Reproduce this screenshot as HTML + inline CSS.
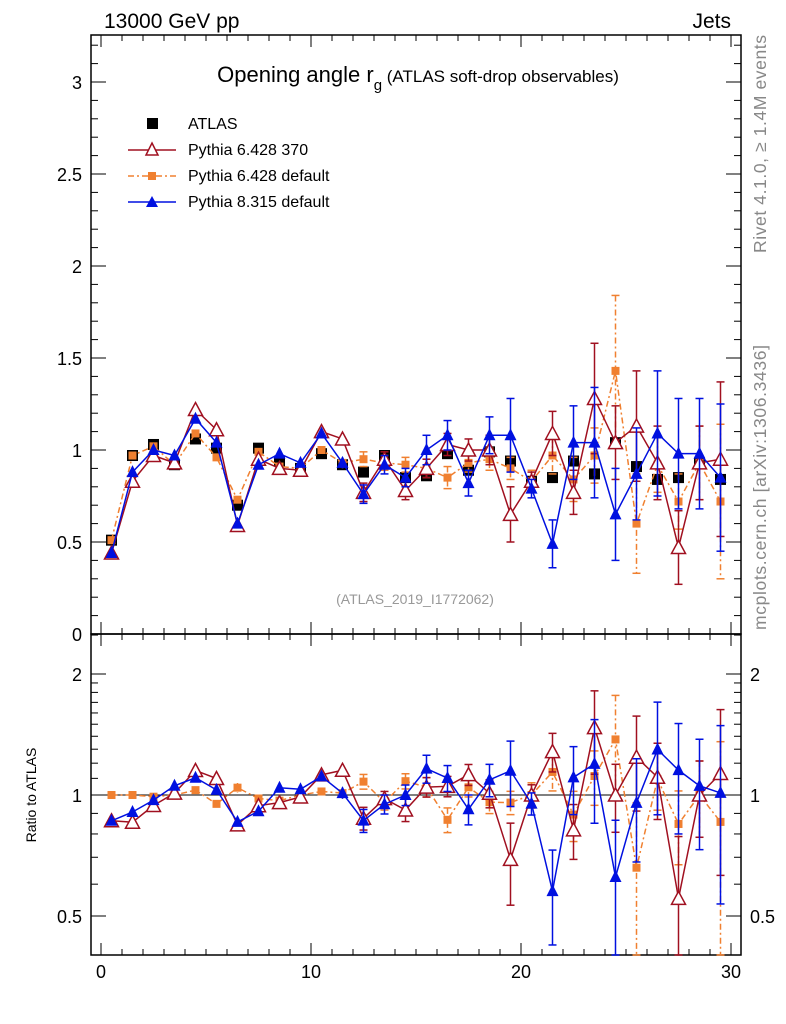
<!DOCTYPE html>
<html><head><meta charset="utf-8"><style>
body{margin:0;background:#fff;}
svg{display:block;font-family:"Liberation Sans",sans-serif;}
</style></head><body>
<svg id="c" width="786" height="1024" xmlns="http://www.w3.org/2000/svg">
<text x="104" y="28" font-size="21">13000 GeV pp</text>
<text x="731" y="28" font-size="21" text-anchor="end">Jets</text>
<text x="418" y="82" font-size="22" text-anchor="middle">Opening angle r<tspan dy="8" font-size="15">g</tspan><tspan dy="-8" font-size="17"> (ATLAS soft-drop observables)</tspan></text>
<text x="415" y="604" font-size="14" fill="#999" text-anchor="middle">(ATLAS_2019_I1772062)</text>
<text transform="translate(766,253) rotate(-90)" font-size="17.5" fill="#888" textLength="218">Rivet 4.1.0, ≥ 1.4M events</text>
<text transform="translate(766,630) rotate(-90)" font-size="17.5" fill="#888" textLength="285">mcplots.cern.ch [arXiv:1306.3436]</text>
<text transform="translate(36,795) rotate(-90)" font-size="14" text-anchor="middle">Ratio to ATLAS</text>
<g id="legend">
<rect x="147" y="118" width="11" height="11" fill="#000"/>
<text x="188" y="129" font-size="16">ATLAS</text>
<line x1="128" y1="150" x2="176" y2="150" stroke="#a01020" stroke-width="1.5"/>
<path d="M152,143 L158,155 L146,155 Z" fill="#fff" stroke="#a01020" stroke-width="1.5"/>
<text x="188" y="155" font-size="16">Pythia 6.428 370</text>
<line x1="128" y1="176" x2="176" y2="176" stroke="#f08030" stroke-width="1.5" stroke-dasharray="6,3,2,3"/>
<rect x="148" y="172" width="8" height="8" fill="#f08030"/>
<text x="188" y="181" font-size="16">Pythia 6.428 default</text>
<line x1="128" y1="202" x2="176" y2="202" stroke="#0010e0" stroke-width="1.5"/>
<path d="M152,196 L158,207 L146,207 Z" fill="#0010e0"/>
<text x="188" y="207" font-size="16">Pythia 8.315 default</text>
</g>
</svg>
<script>
const xs=[0.5,1.5,2.5,3.5,4.5,5.5,6.5,7.5,8.5,9.5,10.5,11.5,12.5,13.5,14.5,15.5,16.5,17.5,18.5,19.5,20.5,21.5,22.5,23.5,24.5,25.5,26.5,27.5,28.5,29.5];
const atlas=[0.51,0.97,1.03,0.92,1.06,1.01,0.70,1.01,0.94,0.90,0.98,0.92,0.88,0.97,0.85,0.86,0.98,0.89,0.99,0.94,0.83,0.85,0.94,0.87,1.04,0.91,0.84,0.85,0.93,0.84];
const py6a=[0.44,0.83,0.97,0.93,1.22,1.11,0.59,0.95,0.90,0.89,1.10,1.06,0.77,0.95,0.78,0.90,1.03,1.00,1.00,0.65,0.83,1.09,0.77,1.28,1.04,1.13,0.93,0.47,0.93,0.95];
const py6aErr=[0.01,0.01,0.01,0.01,0.01,0.01,0.01,0.01,0.01,0.02,0.02,0.03,0.05,0.04,0.05,0.05,0.06,0.06,0.08,0.15,0.05,0.12,0.12,0.3,0.2,0.3,0.2,0.2,0.2,0.42];
const py6b=[0.51,0.97,1.02,0.92,1.09,0.96,0.73,0.99,0.91,0.90,1.00,0.93,0.95,0.93,0.92,0.90,0.85,0.93,0.95,0.90,0.83,0.97,0.84,0.97,1.43,0.60,0.92,0.72,0.93,0.72];
const py6bErr=[0.01,0.01,0.01,0.01,0.01,0.01,0.02,0.02,0.02,0.02,0.02,0.03,0.04,0.04,0.04,0.05,0.06,0.05,0.06,0.06,0.06,0.1,0.12,0.15,0.41,0.27,0.15,0.15,0.2,0.42];
const py8=[0.44,0.88,1.00,0.97,1.17,1.04,0.60,0.92,0.98,0.93,1.09,0.93,0.76,0.92,0.85,1.00,1.08,0.82,1.08,1.08,0.79,0.49,1.04,1.04,0.65,0.87,1.09,0.98,0.98,0.85];
const py8Err=[0.01,0.01,0.01,0.01,0.01,0.01,0.01,0.02,0.02,0.02,0.02,0.03,0.05,0.05,0.05,0.08,0.08,0.07,0.1,0.2,0.05,0.13,0.2,0.3,0.25,0.25,0.34,0.3,0.3,0.4];
const xTicks=[0,10,20,30];
const yTicks=[0,0.5,1,1.5,2,2.5,3];
const rTicks=[0.5,1,2];

const svg=document.getElementById('c');
const NS='http://www.w3.org/2000/svg';
const L=91,R=741,T=35,B=634,RT=634,RB=955;
const X=v=>101+v*21;
const Y=v=>634-v*184;
const RY=v=>795-Math.log2(v)*121;
function mk(tag,at,parent){const e=document.createElementNS(NS,tag);for(const k in at)e.setAttribute(k,at[k]);(parent||svg).appendChild(e);return e;}
let f1=mk('rect',{x:L,y:T,width:R-L,height:B-T,fill:'none',stroke:'#000','stroke-width':1.5});


let f2=mk('rect',{x:L,y:RT,width:R-L,height:RB-RT,fill:'none',stroke:'#000','stroke-width':1.5});


for(let i=0;i<=30;i++){const x=X(i);const len=(i%10==0)?12:6;
 [[T,1],[B,-1],[RT,1],[RB,-1]].forEach(([y,d])=>mk('line',{x1:x,x2:x,y1:y,y2:y+d*len,stroke:'#000'}));}
xTicks.forEach(v=>{const t=mk('text',{x:X(v),y:978,'font-size':18,'text-anchor':'middle'});t.textContent=v;

});
for(let i=0;i<=32;i++){const v=i*0.1;const y=Y(v);if(y<T)continue;const len=(i%5==0)?15:7;
 mk('line',{x1:L,x2:L+len,y1:y,y2:y,stroke:'#000'});mk('line',{x1:R,x2:R-len,y1:y,y2:y,stroke:'#000'});}
yTicks.forEach(v=>{const t=mk('text',{x:82,y:Y(v)+7,'font-size':18,'text-anchor':'end'});t.textContent=v;

});
const rmin=[0.5,0.6,0.7,0.8,0.9,1,1.1,1.2,1.3,1.4,1.5,1.6,1.7,1.8,1.9,2,2.5];
rmin.forEach(v=>{const y=RY(v);if(y<RT||y>RB)return;const len=rTicks.includes(v)?15:7;
 mk('line',{x1:L,x2:L+len,y1:y,y2:y,stroke:'#000'});mk('line',{x1:R,x2:R-len,y1:y,y2:y,stroke:'#000'});});
rTicks.forEach(v=>{[[82,'end'],[750,'start']].forEach(([x,a])=>{const t=mk('text',{x:x,y:RY(v)+7,'font-size':18,'text-anchor':a});t.textContent=v;

});});
mk('line',{x1:L,x2:R,y1:RY(1),y2:RY(1),stroke:'#000'});
function series(vals,errs,color,dash,marker,name,ratio){
 const g=mk('g',{});
 
 
 const yf=ratio?(v,i)=>RY(Math.max(v/atlas[i],0.3)):(v)=>Y(v);
 const clipT=ratio?RT:T, clipB=ratio?RB:B;
 const cl=y=>Math.min(Math.max(y,clipT),clipB);
 if(errs){vals.forEach((v,i)=>{const x=X(xs[i]);
  const hi=ratio?(v+errs[i])/atlas[i]:v+errs[i], lo=ratio?Math.max((v-errs[i])/atlas[i],0.3):v-errs[i];
  const y1=cl(ratio?RY(hi):Y(hi)),y2=cl(ratio?RY(lo):Y(lo));
  mk('line',{x1:x,x2:x,y1:y1,y2:y2,stroke:color,'stroke-width':1.5,'stroke-dasharray':dash||'none'},g);
  if(errs[i]>0.03){mk('line',{x1:x-4,x2:x+4,y1:y1,y2:y1,stroke:color,'stroke-width':1.5},g);mk('line',{x1:x-4,x2:x+4,y1:y2,y2:y2,stroke:color,'stroke-width':1.5},g);}
 });}
 const pts=vals.map((v,i)=>X(xs[i])+','+cl(yf(v,i))).join(' ');
 mk('polyline',{points:pts,fill:'none',stroke:color,'stroke-width':1.5,'stroke-dasharray':dash||'none'},g);
 vals.forEach((v,i)=>{const x=X(xs[i]),y=yf(v,i);if(y<clipT||y>clipB)return;let m;
  if(marker=='tri-open')m=mk('path',{d:`M${x},${y-7} L${x+7},${y+6} L${x-7},${y+6} Z`,fill:'#fff',stroke:color,'stroke-width':1.5},g);
  else if(marker=='tri')m=mk('path',{d:`M${x},${y-7} L${x+6},${y+5} L${x-6},${y+5} Z`,fill:color},g);
  else m=mk('rect',{x:x-4,y:y-4,width:8,height:8,fill:color},g);
  
  
 });
}
const ga=mk('g',{});


atlas.forEach((v,i)=>{const r=mk('rect',{x:X(xs[i])-5.5,y:Y(v)-5.5,width:11,height:11,fill:'#000'},ga);

});
series(py6b,py6bErr,'#f08030','6,3,2,3','sq','py6-default-series',false);
series(py6a,py6aErr,'#a01020',null,'tri-open','py6-370-series',false);
series(py8,py8Err,'#0010e0',null,'tri','py8-series',false);
series(py6b,py6bErr,'#f08030','6,3,2,3','sq','py6-default-ratio',true);
series(py6a,py6aErr,'#a01020',null,'tri-open','py6-370-ratio',true);
series(py8,py8Err,'#0010e0',null,'tri','py8-ratio',true);
</script>
</body></html>
